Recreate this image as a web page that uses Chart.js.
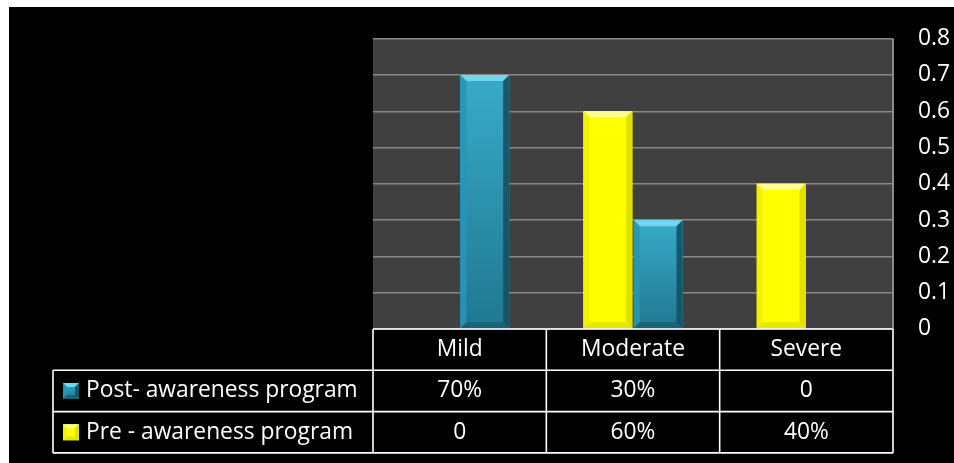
<!DOCTYPE html>
<html>
<head>
<meta charset="utf-8">
<script src="https://cdn.jsdelivr.net/npm/chart.js@4.4.0/dist/chart.umd.min.js"></script>
<style>
  html, body { margin: 0; padding: 0; background: #ffffff; }
  #wrap { position: absolute; left: 0; top: 0; width: 954px; height: 463px; }
</style>
</head>
<body>
<div id="wrap"><canvas id="c" width="954" height="463"></canvas></div>
<script>
const categories = ['Mild', 'Moderate', 'Severe'];
const preValues = [0, 0.6, 0.4];
const postValues = [0.7, 0.3, 0];
const preLabels = ['0', '60%', '40%'];
const postLabels = ['70%', '30%', '0'];
const preName = 'Pre - awareness program';
const postName = 'Post- awareness program';
const yMin = 0, yMax = 0.8, yStep = 0.1;

const FONT = '"Open Sans", "DejaVu Sans", sans-serif';
const FSIZE = 22.8;
const TEAL = '#2f9fbd';
const YELLOW = '#ffff00';

function shade(ctx, pts, color) {
  ctx.beginPath();
  ctx.moveTo(pts[0][0], pts[0][1]);
  for (let i = 1; i < pts.length; i++) ctx.lineTo(pts[i][0], pts[i][1]);
  ctx.closePath();
  ctx.fillStyle = color;
  ctx.fill();
}

function bevelBox(ctx, l, t, r, b, kind, bev) {
  if (b - t < 1) return;
  const s = Math.min(bev, (b - t) / 2, (r - l) / 2);
  if (kind === 'teal') {
    const g = ctx.createLinearGradient(0, t, 0, b);
    g.addColorStop(0, '#38abc9');
    g.addColorStop(1, '#1f7891');
    ctx.fillStyle = g;
    ctx.fillRect(l, t, r - l, b - t);
    shade(ctx, [[l, t], [r, t], [r - s, t + s], [l + s, t + s]], '#74d6ee');
    shade(ctx, [[l, t], [l + s, t + s], [l + s, b - s], [l, b]], 'rgba(40,150,180,0.9)');
    shade(ctx, [[r, t], [r - s, t + s], [r - s, b - s], [r, b]], 'rgba(20,80,100,0.9)');
    shade(ctx, [[l, b], [r, b], [r - s, b - s], [l + s, b - s]], 'rgba(25,95,115,0.9)');
  } else {
    ctx.fillStyle = YELLOW;
    ctx.fillRect(l, t, r - l, b - t);
    shade(ctx, [[l, t], [r, t], [r - s, t + s], [l + s, t + s]], '#ffff8a');
    shade(ctx, [[l, t], [l + s, t + s], [l + s, b - s], [l, b]], '#f2f200');
    shade(ctx, [[r, t], [r - s, t + s], [r - s, b - s], [r, b]], '#e0e000');
    shade(ctx, [[l, b], [r, b], [r - s, b - s], [l + s, b - s]], '#e6e600');
  }
}

const framePlugin = {
  id: 'frame',
  beforeDraw(chart) {
    const ctx = chart.ctx;
    const a = chart.chartArea;
    ctx.save();
    ctx.fillStyle = '#000000';
    ctx.fillRect(9, 7, chart.width - 9, chart.height - 7);
    ctx.fillStyle = '#404040';
    ctx.fillRect(a.left, a.top, a.right - a.left, a.bottom - a.top);
    ctx.restore();
  },
  afterDatasetsDraw(chart) {
    const ctx = chart.ctx;
    ctx.save();
    chart.data.datasets.forEach((ds, di) => {
      const meta = chart.getDatasetMeta(di);
      meta.data.forEach(el => {
        const w = el.width;
        bevelBox(ctx, el.x - w / 2, el.y, el.x + w / 2, el.base, ds.kind, 6);
      });
    });
    ctx.restore();
  },
  afterDraw(chart) {
    const ctx = chart.ctx;
    const a = chart.chartArea;
    const xs = chart.scales.x;
    ctx.save();
    ctx.strokeStyle = '#8c8c8c';
    ctx.lineWidth = 2;
    ctx.beginPath();
    ctx.moveTo(a.right, a.top);
    ctx.lineTo(a.right, a.bottom);
    ctx.stroke();

    const tableLeft = 53;
    const rowH = 41.3;
    const y0 = a.bottom, y1 = y0 + rowH, y2 = y1 + rowH, y3 = y2 + rowH;
    const half = (a.right - a.left) / categories.length / 2;
    const bounds = [a.left];
    categories.forEach((c, i) => bounds.push(xs.getPixelForValue(i) + half));

    ctx.strokeStyle = '#ffffff';
    ctx.lineWidth = 1.6;
    ctx.beginPath();
    ctx.moveTo(a.left, y0); ctx.lineTo(a.right, y0);
    ctx.moveTo(tableLeft, y1); ctx.lineTo(a.right, y1);
    ctx.moveTo(tableLeft, y2); ctx.lineTo(a.right, y2);
    ctx.moveTo(tableLeft, y3); ctx.lineTo(a.right, y3);
    ctx.moveTo(tableLeft, y1); ctx.lineTo(tableLeft, y3);
    bounds.forEach(bx => { ctx.moveTo(bx, y0); ctx.lineTo(bx, y3); });
    ctx.stroke();

    ctx.fillStyle = '#ffffff';
    ctx.font = FSIZE + 'px ' + FONT;
    ctx.textAlign = 'center';
    ctx.textBaseline = 'middle';
    categories.forEach((c, i) => {
      const cx = xs.getPixelForValue(i);
      ctx.fillText(c, cx, (y0 + y1) / 2);
      ctx.fillText(postLabels[i], cx, (y1 + y2) / 2);
      ctx.fillText(preLabels[i], cx, (y2 + y3) / 2);
    });
    ctx.textAlign = 'left';
    ctx.fillText(postName, 86, (y1 + y2) / 2);
    ctx.fillText(preName, 86, (y2 + y3) / 2);
    const k = 16;
    let ky = (y1 + y2) / 2 - k / 2;
    bevelBox(ctx, 63, ky, 63 + k, ky + k, 'teal', 4);
    ky = (y2 + y3) / 2 - k / 2;
    bevelBox(ctx, 63, ky, 63 + k, ky + k, 'yellow', 4);
    ctx.restore();
  }
};

new Chart(document.getElementById('c'), {
  type: 'bar',
  data: {
    labels: categories,
    datasets: [
      { label: preName, data: preValues, kind: 'yellow', backgroundColor: YELLOW, borderWidth: 0 },
      { label: postName, data: postValues, kind: 'teal', backgroundColor: TEAL, borderWidth: 0 }
    ]
  },
  options: {
    responsive: false,
    animation: false,
    devicePixelRatio: 1,
    layout: { padding: { left: 373, top: 36, bottom: 134, right: 0 } },
    datasets: { bar: { categoryPercentage: 0.58, barPercentage: 0.97 } },
    plugins: { legend: { display: false }, tooltip: { enabled: false } },
    scales: {
      x: { display: false },
      y: {
        position: 'right',
        min: yMin, max: yMax,
        ticks: {
          stepSize: yStep,
          color: '#ffffff',
          padding: 25,
          font: { family: FONT, size: FSIZE },
          callback: v => String(Math.round(v * 10) / 10)
        },
        grid: { color: '#888888', lineWidth: 1.5, drawTicks: false },
        border: { display: false },
        afterFit: s => { s.width = 61; }
      }
    }
  },
  plugins: [framePlugin]
});
</script>
</body>
</html>
